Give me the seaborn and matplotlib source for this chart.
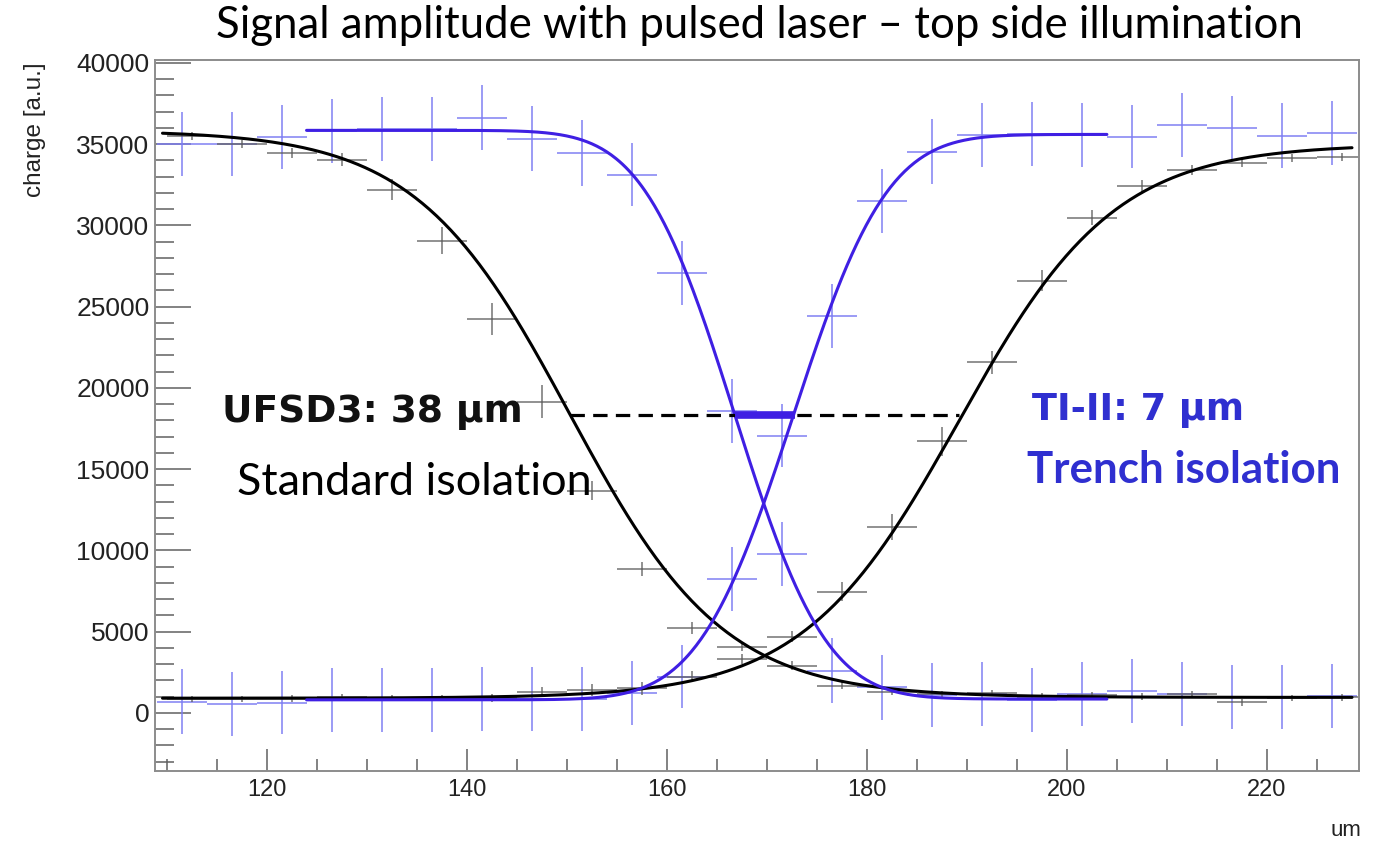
import math
import numpy as np
import pandas as pd
import matplotlib
matplotlib.use("Agg")
import matplotlib.pyplot as plt
from matplotlib.ticker import MultipleLocator
import seaborn as sns

# ---- measured bin centres (um) ----
ti_x = [111.5, 116.5, 121.5, 126.5, 131.5, 136.5, 141.5, 146.5, 151.5, 156.5, 161.5, 166.5,
        171.5, 176.5, 181.5, 186.5, 191.5, 196.5, 201.5, 206.5, 211.5, 216.5, 221.5, 226.5]
ufsd_x = [112.5, 117.5, 122.5, 127.5, 132.5, 137.5, 142.5, 147.5, 152.5, 157.5, 162.5, 167.5,
          172.5, 177.5, 182.5, 187.5, 192.5, 197.5, 202.5, 207.5, 212.5, 217.5, 222.5, 227.5]
bin_half_width = 2.5

# ---- trench isolation (TI-II) pads ----
ti_left = [35040, 35000, 35430, 35815, 35940, 35940, 36635, 35340, 34440, 33130, 27060, 18580,
           9765, 2585, 1560, 1100, 1170, 800, 1150, 1350, 1170, 985, 965, 1046]
ti_right = [695, 535, 634, 780, 780, 780, 843, 843, 843, 1212, 2234, 8246,
            17065, 24430, 31500, 34540, 35570, 35630, 35570, 35470, 36160, 36020, 35530, 35670]
ti_left_err = [1970, 1980, 1970, 1980, 1950, 1970, 1980, 2000, 2020, 1960, 1980, 1970,
               1960, 2000, 2000, 1950, 1970, 1950, 1980, 1950, 1960, 1950, 1950, 1950]
ti_right_err = [1980, 1990, 1960, 1990, 1980, 1970, 1960, 1990, 1990, 1970, 1960, 1950,
                1960, 1950, 1970, 1990, 1970, 1990, 1980, 1950, 1970, 1970, 1980, 1970]

# ---- standard isolation (UFSD3) pads ----
ufsd_left = [35510, 35000, 34440, 34030, 32185, 29065, 24230, 19160, 13680, 8860, 5210, 4080,
             2910, 1680, 1300, 1170, 1210, 1000, 1100, 1000, 1150, 640, 900, 950]
ufsd_right = [860, 850, 880, 985, 900, 910, 930, 1310, 1415, 1520, 2235, 3320,
              4695, 7465, 11465, 16700, 21580, 26600, 30480, 32430, 33415, 33825, 34135, 34235]
ufsd_left_err = [250, 250, 300, 400, 650, 850, 1000, 1000, 600, 450, 350, 300,
                 250, 200, 200, 200, 200, 200, 200, 200, 200, 200, 200, 200]
ufsd_right_err = [200, 200, 200, 200, 200, 200, 250, 300, 350, 400, 350, 300,
                  350, 600, 800, 920, 700, 650, 450, 350, 300, 250, 250, 250]

# ---- fit parameters: (centre, width, plateau, baseline, x-range) ----
ufsd_fall_fit = dict(c=150.3, w=7.7, top=35850, base=950, lo=109.6, hi=228.5)
ufsd_rise_fit = dict(c=189.2, w=7.8, top=35000, base=900, lo=109.6, hi=228.5)
ti_fall_fit = dict(c=166.8, w=7.2, top=35850, base=850, lo=124.0, hi=204.0)
ti_rise_fit = dict(c=172.6, w=7.4, top=35600, base=800, lo=124.0, hi=204.0)

half_level = 18300
ufsd_half = [150.3, 189.2]
ti_half = [166.8, 172.8]

title = "Signal amplitude with pulsed laser \u2013 top side illumination"

BLUE_PTS = "#7d7df2"
BLUE_FIT = "#3f1fe3"
BLUE_TXT = "#2f2fd0"
GREY_PTS = "#5a5a5a"


def logistic_step(x, c, w, top, base, falling):
    s = 1.0 / (1.0 + np.exp((x - c) / w))
    if not falling:
        s = 1.0 - s
    return base + (top - base) * s


def erf_step(x, c, w, top, base, falling):
    erf = np.frompyfunc(math.erf, 1, 1)
    s = 0.5 * (1.0 - erf((x - c) / (math.sqrt(2) * w)).astype(float))
    if not falling:
        s = 1.0 - s
    return base + (top - base) * s


def fit_frame(p, func, falling, name):
    xs = np.linspace(p["lo"], p["hi"], 500)
    ys = func(xs, p["c"], p["w"], p["top"], p["base"], falling)
    return pd.DataFrame({"x": xs, "y": ys, "curve": name})


sns.set_theme(style="white")
plt.rcParams["font.family"] = ["Liberation Sans", "DejaVu Sans"]

fig = plt.figure(figsize=(13.8, 8.46), dpi=100)
ax = fig.add_axes([155 / 1380, 1 - 771 / 846, (1359 - 155) / 1380, (771 - 60) / 846])

# data points drawn as ROOT-style crosses (bin width x error)
for ys, errs in ((ti_left, ti_left_err), (ti_right, ti_right_err)):
    ax.errorbar(ti_x, ys, xerr=bin_half_width, yerr=errs, fmt="none",
                ecolor=BLUE_PTS, elinewidth=1.2, capsize=0, alpha=0.9, zorder=2)
for ys, errs in ((ufsd_left, ufsd_left_err), (ufsd_right, ufsd_right_err)):
    ax.errorbar(ufsd_x, ys, xerr=bin_half_width, yerr=errs, fmt="none",
                ecolor=GREY_PTS, elinewidth=1.1, capsize=0, alpha=0.85, zorder=2)

# fitted curves
ufsd_fits = pd.concat([fit_frame(ufsd_fall_fit, logistic_step, True, "fall"),
                       fit_frame(ufsd_rise_fit, logistic_step, False, "rise")])
ti_fits = pd.concat([fit_frame(ti_fall_fit, erf_step, True, "fall"),
                     fit_frame(ti_rise_fit, erf_step, False, "rise")])
sns.lineplot(data=ufsd_fits, x="x", y="y", units="curve", estimator=None,
             color="black", linewidth=2.2, ax=ax, zorder=3, sort=False)
sns.lineplot(data=ti_fits, x="x", y="y", units="curve", estimator=None,
             color=BLUE_FIT, linewidth=2.2, ax=ax, zorder=4, sort=False)

# half-maximum widths
ax.plot(ufsd_half, [half_level, half_level], color="black", linewidth=2.3,
        dashes=(4.5, 2.6), zorder=5)
ax.plot(ti_half, [half_level, half_level], color=BLUE_FIT, linewidth=5.5,
        solid_capstyle="butt", zorder=6)

# axes ranges and ticks
ax.set_xlim(108.85, 229.2)
ax.set_ylim(-3580, 40180)
ax.xaxis.set_major_locator(MultipleLocator(20))
ax.xaxis.set_minor_locator(MultipleLocator(5))
ax.yaxis.set_major_locator(MultipleLocator(5000))
ax.yaxis.set_minor_locator(MultipleLocator(1000))
ax.tick_params(axis="both", which="both", direction="in", colors="#606060",
               labelcolor="#222222", width=1.1)
ax.tick_params(axis="y", which="major", length=26, pad=4, labelsize=19)
ax.tick_params(axis="y", which="minor", length=13.5)
ax.tick_params(axis="x", which="major", length=16, pad=6, labelsize=17)
ax.tick_params(axis="x", which="minor", length=8.5)
ax.tick_params(left=True, bottom=True, which="both")
ax.set_xlabel("")
ax.set_ylabel("")
for sp in ax.spines.values():
    sp.set_color("#8c8c8c")
    sp.set_linewidth(1.4)

# axis titles
fig.text(35 / 1380, 1 - 62 / 846, "charge [a.u.]", rotation=90, ha="center", va="top",
         fontsize=17.5, color="#222222")
fig.text(1361 / 1380, 1 - 830 / 846, "um", ha="right", va="center",
         fontsize=16, color="#222222")

# title and annotations
fig.text(759 / 1380, 1 - 25 / 846, title, ha="center", va="center",
         fontsize=31.5, family=["Lato", "DejaVu Sans"], color="black")
ax.text(115.5, 18520, "UFSD3: 38 \u00b5m", ha="left", va="center", fontsize=27,
        fontweight="bold", family=["DejaVu Sans"], color="#111111", zorder=7)
ax.text(117.0, 14150, "Standard isolation", ha="left", va="center", fontsize=32.4,
        family=["Lato", "DejaVu Sans"], color="black", zorder=7)
ax.text(196.5, 18650, "TI-II: 7 \u00b5m", ha="left", va="center", fontsize=26.4,
        fontweight="bold", family=["DejaVu Sans"], color=BLUE_TXT, zorder=7)
ax.text(196.0, 14950, "Trench isolation", ha="left", va="center", fontsize=31.6,
        fontweight="bold", family=["Lato", "DejaVu Sans"], color=BLUE_TXT, zorder=7)

fig.savefig("out.png", dpi=100)
